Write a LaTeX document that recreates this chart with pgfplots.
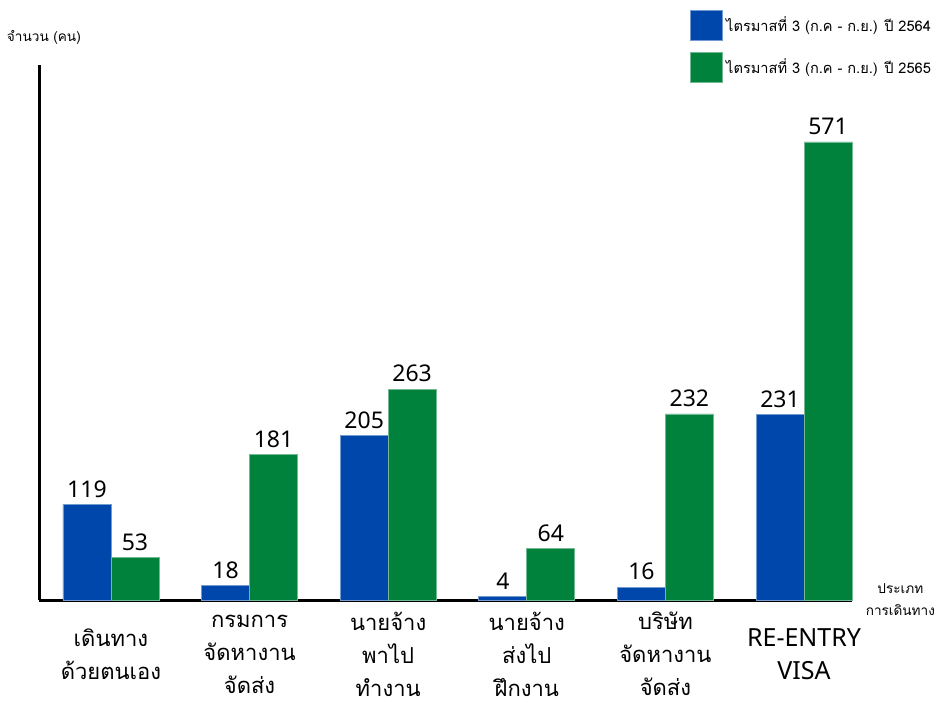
\documentclass[border=0pt]{standalone}
\usepackage{fontspec}
\setmainfont{Noto Sans}
\newfontfamily\thaifont[Script=Thai]{Loma}
\usepackage{pgfplots}
\pgfplotsset{compat=1.18}

\definecolor{barblue}{HTML}{0047AB}
\definecolor{bargreen}{HTML}{00823C}

\newcommand{\latinlabel}{\normalfont\fontsize{12.5}{18.5}\selectfont}

\begin{document}
\begin{tikzpicture}
  % 1 px of the reference = 0.5pt
  \useasboundingbox (0,0) rectangle (471.5pt,351.5pt);
  \begin{axis}[
      at={(19.5pt,51.5pt)}, anchor=south west,
      scale only axis,
      width=406.5pt, height=267.5pt,
      xmin=-0.519, xmax=5.346,
      ymin=0, ymax=667,
      axis x line=bottom, axis y line=left,
      axis line style={-, line width=1.5pt, black},
      ytick=\empty,
      xtick={0,1,2,3,4,5},
      major tick length=0pt,
      xticklabels={
        {เดินทาง\\ด้วยตนเอง},
        {กรมการ\\จัดหางาน\\จัดส่ง},
        {นายจ้าง\\พาไป\\ทำงาน},
        {นายจ้าง\\ส่งไป\\ฝึกงาน},
        {บริษัท\\จัดหางาน\\จัดส่ง},
        {\latinlabel RE-ENTRY\\\latinlabel VISA}
      },
      xticklabel style={anchor=center, yshift=-27pt, align=center,
        font=\thaifont\fontsize{11}{16.5}\selectfont},
      xlabel={ประเภท\\การเดินทาง},
      xlabel style={at={(axis description cs:1.0595,0.0)}, anchor=center,
        align=center, font=\thaifont\fontsize{6.8}{11}\selectfont},
      ylabel={จำนวน (คน)},
      ylabel style={at={(axis description cs:0.006,1.052)}, anchor=center,
        rotate=-90, font=\thaifont\fontsize{6.8}{9}\selectfont},
      ybar, bar width=0.346,
      nodes near coords,
      /pgf/number format/assume math mode=true,
      every node near coord/.append style={black,
        font=\fontsize{11.5}{13}\selectfont},
      legend style={at={(axis description cs:0.8007,1.103)}, anchor=north west,
        draw=none, fill=none, inner sep=0pt, row sep=5.5pt,
        font=\thaifont\fontsize{7.3}{9}\selectfont,
        nodes={inner sep=1.5pt}},
      legend cell align=left,
      legend image code/.code={\fill[#1] (0pt,-7.5pt) rectangle (16pt,7.5pt);},
      clip=false,
    ]
    \addplot[bar shift=-0.173, fill=barblue, draw=barblue!55!white, line width=0.4pt]
      coordinates {(0,119) (1,18) (2,205) (3,4) (4,16) (5,231)};
    \addlegendentry{ไตรมาสที่ 3 (ก.ค - ก.ย.) ปี 2564}
    \addplot[bar shift=0.173, fill=bargreen, draw=bargreen!55!white, line width=0.4pt]
      coordinates {(0,53) (1,181) (2,263) (3,64) (4,232) (5,571)};
    \addlegendentry{ไตรมาสที่ 3 (ก.ค - ก.ย.) ปี 2565}
  \end{axis}
\end{tikzpicture}
\end{document}
